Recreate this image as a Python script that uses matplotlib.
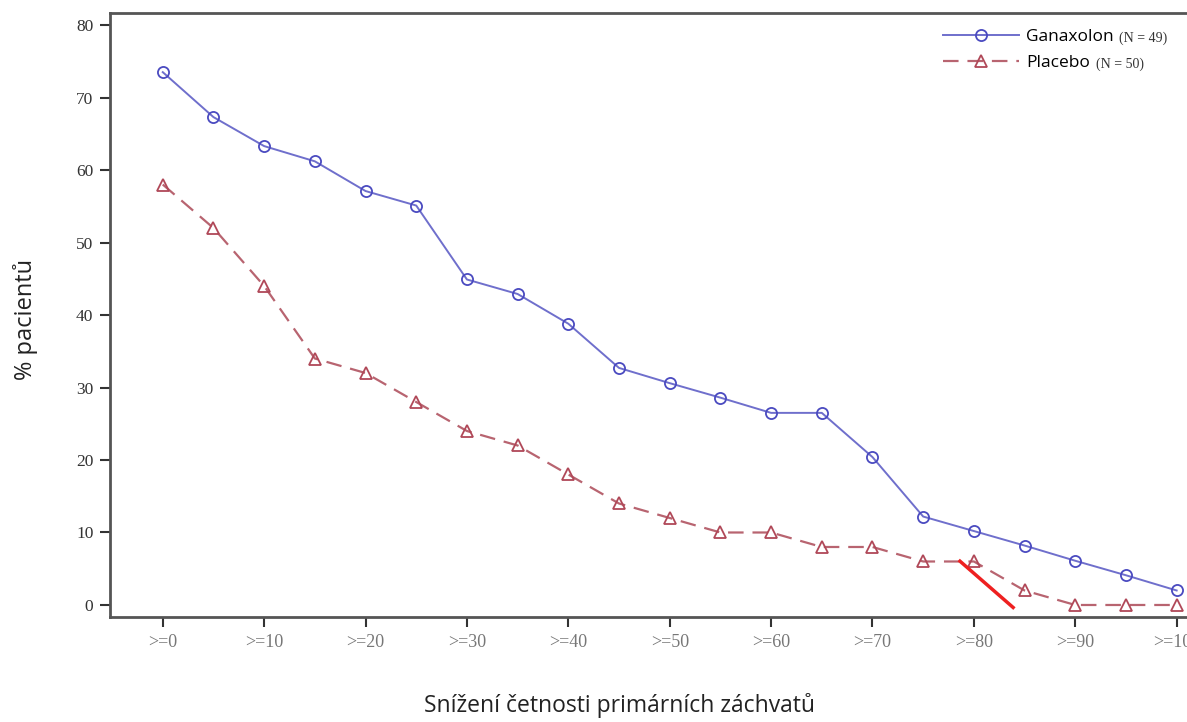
import matplotlib.pyplot as plt

# percent reduction thresholds
reduction = [0, 5, 10, 15, 20, 25, 30, 35, 40, 45, 50, 55, 60, 65, 70, 75, 80, 85, 90, 95, 100]
tick_pos = [0, 10, 20, 30, 40, 50, 60, 70, 80, 90, 100]
tick_labels = ['>=0', '>=10', '>=20', '>=30', '>=40', '>=50', '>=60', '>=70', '>=80', '>=90', '>=100']

# % patients
ganaxolon = [73.5, 67.3, 63.3, 61.2, 57.1, 55.1, 44.9, 42.9, 38.8, 32.7, 30.6,
             28.6, 26.5, 26.5, 20.4, 12.2, 10.2, 8.2, 6.1, 4.1, 2.0]
placebo = [58, 52, 44, 34, 32, 28, 24, 22, 18, 14, 12, 10, 10, 8, 8, 6, 6, 2, 0, 0, 0]
group_n = ['(N = 49)', '(N = 50)']

# red annotation stroke drawn over the chart
mark_x = [78.5, 84.0]
mark_y = [6.2, -0.5]

fig = plt.figure(figsize=(11.87, 7.22), dpi=100)
ax = fig.add_axes([0.0927, 0.1454, 0.943, 0.8366])

ax.plot(reduction, ganaxolon, color='#6f6fcc', lw=1.4, marker='o', ms=8,
        mfc='none', mec='#4a4ac0', mew=1.3, label='Ganaxolon')
ax.plot(reduction, placebo, color='#b86470', lw=1.6, ls=(0, (7, 4)), marker='^', ms=8,
        mfc='none', mec='#b04858', mew=1.3, label='Placebo')
ax.plot(mark_x, mark_y, color='#ee2020', lw=2.5, solid_capstyle='butt', clip_on=False)

ax.set_xlim(-5.2, 105.2)
ax.set_ylim(-1.66, 81.66)
ax.set_yticks([0, 10, 20, 30, 40, 50, 60, 70, 80])
ax.set_xticks(tick_pos)
ax.set_xticklabels(tick_labels)

for s in ax.spines.values():
    s.set_color('#555555')
    s.set_linewidth(2)

ax.tick_params(axis='both', direction='out', length=7, width=1.5, color='#333333')
ax.tick_params(axis='y', labelsize=12.5, labelcolor='#333333', pad=5)
ax.tick_params(axis='x', labelsize=13, labelcolor='#777777', pad=5)
for t in ax.get_xticklabels() + ax.get_yticklabels():
    t.set_family('Liberation Serif')

# axis titles
fig.text(0.0219, 0.558, '% pacientů', fontsize=17, family='Open Sans', rotation=90,
         ha='center', va='center', color='#222222')
fig.text(0.522, 0.014, 'Snížení četnosti primárních záchvatů', fontsize=16.5,
         family='Open Sans', ha='center', va='baseline', color='#222222')

leg = ax.legend(loc='upper left', bbox_to_anchor=(0.730, 1.0), frameon=False,
                handlelength=4.4, handletextpad=0.4, labelspacing=0.6,
                prop={'family': 'Open Sans', 'size': 12.5})

fig.canvas.draw()
for txt, n in zip(leg.get_texts(), group_n):
    ax.annotate(n, xy=(1, 0.42), xycoords=txt, xytext=(4, 0), textcoords='offset points',
                va='center', ha='left', fontsize=10, family='Liberation Serif',
                color='#333333', zorder=10)

fig.savefig('out.png', dpi=100)
